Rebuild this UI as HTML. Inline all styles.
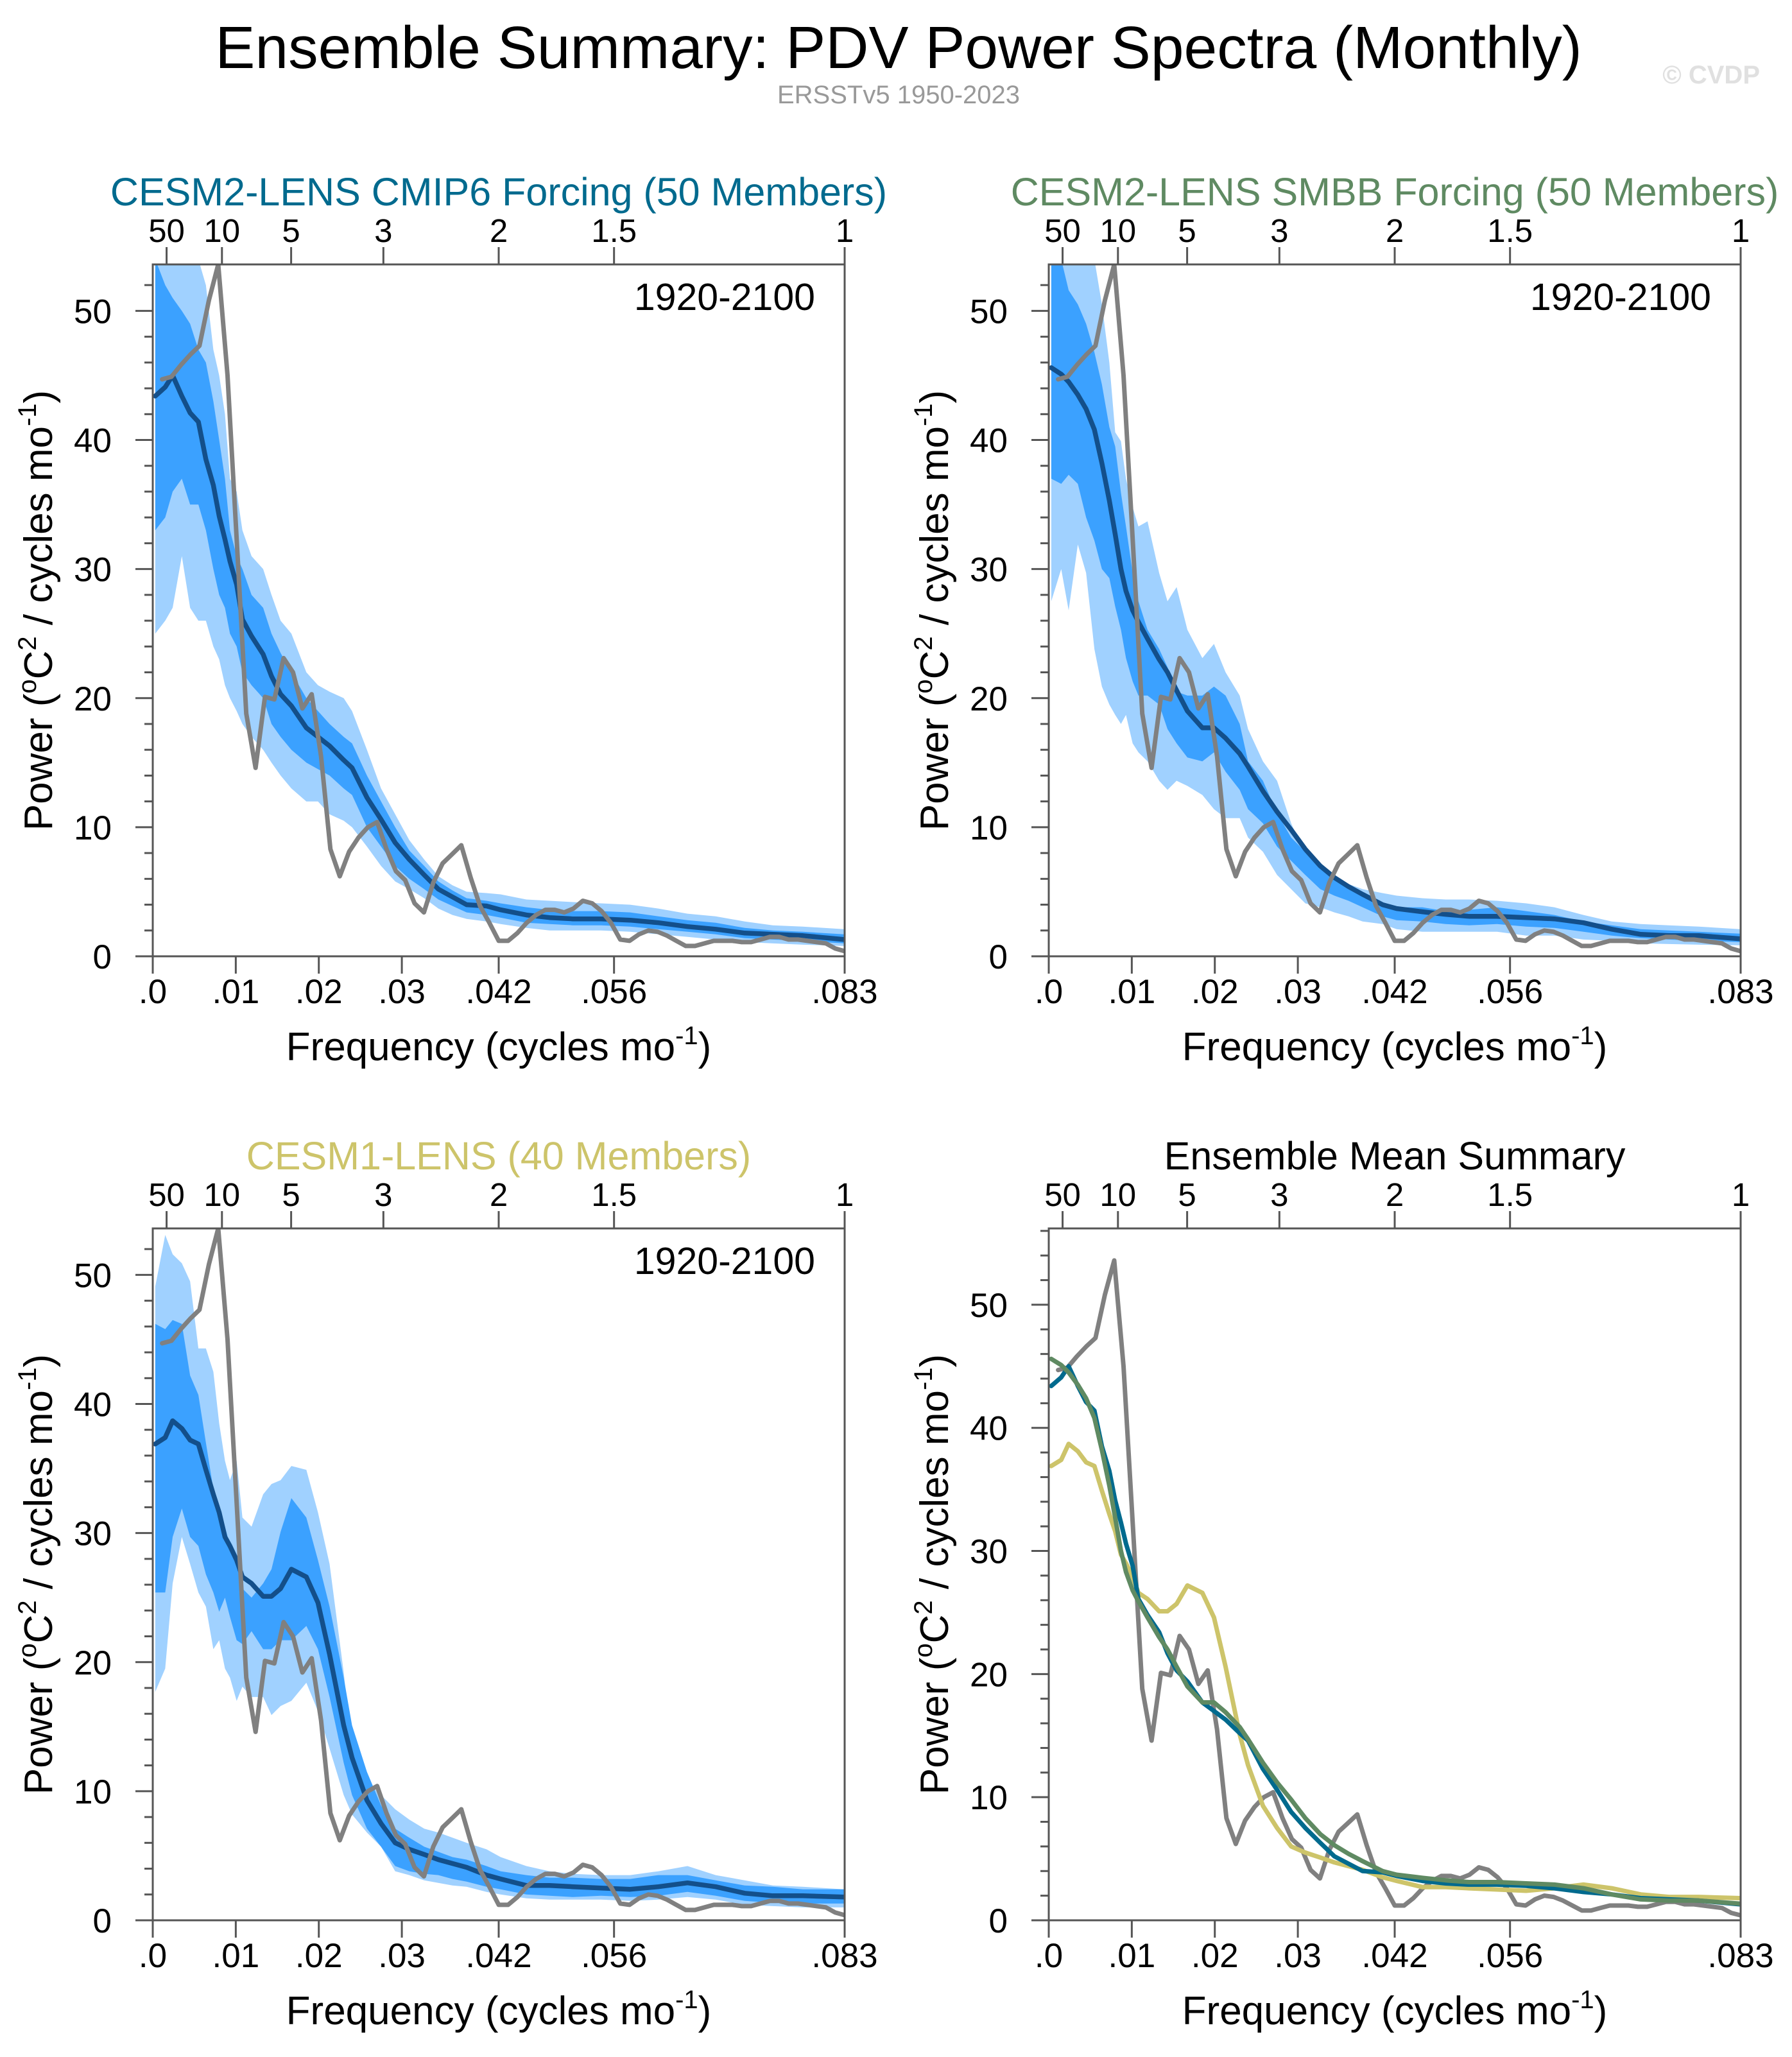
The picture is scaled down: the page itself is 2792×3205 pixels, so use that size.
<!DOCTYPE html>
<html><head><meta charset="utf-8">
<style>
html,body{margin:0;padding:0;background:#fff;}
svg text{font-family:"Liberation Sans",Arial,sans-serif;}
</style></head>
<body>
<svg id="chart" width="2792" height="3200" viewBox="0 0 2792 3200" xmlns="http://www.w3.org/2000/svg">
<rect width="2792" height="3200" fill="#fff"/>
<text x="1400" y="106" font-size="93" text-anchor="middle" fill="#000">Ensemble Summary: PDV Power Spectra (Monthly)</text>
<text x="1400" y="161" font-size="40" text-anchor="middle" fill="#999">ERSSTv5 1950-2023</text>
<text x="2742" y="130" font-size="40" font-weight="bold" text-anchor="end" fill="#e0e0e0">© CVDP</text>
</svg>
<script>
// ---- data ----
const freqGrid = [0.0003,0.0015,0.0024,0.0035,0.0045,0.0055,0.0064,0.0073,0.008,0.0087,0.0093,0.0101,0.0108,0.0119,0.0133,0.0143,0.0154,0.0167,0.0185,0.0199,0.0213,0.0230,0.0240,0.0258,0.0275,0.0292,0.0309,0.0327,0.0344,0.0361,0.0378,0.0402,0.0419,0.0450,0.0478,0.0506,0.0540,0.0575,0.0609,0.0644,0.0678,0.0713,0.0747,0.0783,0.0833];
const obsPower = [44.7,44.9,45.8,46.6,47.3,50.8,53.6,45.0,32.0,18.8,14.6,20.1,19.9,23.1,22.0,19.2,20.3,15.5,8.3,6.2,8.1,9.2,10.0,10.4,8.3,6.6,5.9,4.1,3.4,5.7,7.2,7.9,8.6,6.1,3.9,2.6,1.2,1.2,1.8,2.6,3.2,3.6,3.6,3.4,3.7,4.3,4.1,3.5,2.6,1.3,1.2,1.7,2.0,1.9,1.6,1.2,0.8,0.8,1.0,1.2,1.2,1.2,1.1,1.1,1.3,1.5,1.5,1.3,1.3,1.2,1.1,1.0,0.6,0.4];
// CESM2 CMIP6
const cmip6Mean = [43.4,44.1,45.0,43.4,42.1,41.4,38.5,36.5,34.1,32.3,30.6,28.8,26.1,24.8,23.4,21.7,20.3,19.4,17.7,17.0,16.3,15.2,14.6,12.3,10.6,8.8,7.5,6.3,5.2,4.6,4.0,3.9,3.6,3.2,3.0,2.9,2.9,2.8,2.6,2.3,2.1,1.8,1.7,1.6,1.3];
const cmip6LightUp = [60,58,57,55,55,54,52,47,45,42,37,36,33,31,30,28,26,25,22,21,20.5,20,19,16,13,11,9,7.5,6.2,5.5,5,4.9,4.8,4.4,4.3,4.2,4.1,4.0,3.7,3.3,3.1,2.7,2.4,2.3,2.1];
const cmip6DarkUp = [54,52,51,50,49,47,46,43,40,37,33,31,30,28,27,25,23.5,22,20,19,18,17,16.5,14,12,10,8.2,7,5.8,5.1,4.5,4.3,4.1,3.8,3.6,3.5,3.5,3.4,3.1,2.8,2.6,2.2,2.0,1.9,1.7];
const cmip6DarkLo = [33,34,36,37,35,35,33,30,28,27,25,24,22,21,20,18,17,16,15,14.5,14,13,12.5,10,8.5,7,6,5.2,4.4,3.9,3.4,3.2,3.0,2.6,2.5,2.4,2.4,2.3,2.1,1.9,1.7,1.4,1.3,1.2,1.0];
const cmip6LightLo = [25,26,27,31,27,26,26,24,23,21,20,19,18,17,16,15,14,13,12,12,11,10.5,10,8.5,7,5.8,5.2,4.5,3.7,3.2,2.9,2.7,2.5,2.2,2.0,2.0,2.0,1.9,1.7,1.5,1.3,1.1,1.0,0.9,0.8];
// CESM2 SMBB
const smbbMean = [45.6,45.1,44.5,43.5,42.4,40.8,38.2,35.3,32.7,30.0,28.3,26.8,25.9,24.6,23.0,22.0,20.6,19.0,17.7,17.7,16.9,15.7,14.7,12.8,11.2,9.8,8.3,7.0,6.1,5.4,4.8,4.0,3.7,3.45,3.25,3.1,3.1,3.0,2.9,2.6,2.1,1.7,1.6,1.6,1.35];
const smbbLightUp = [60,60,57,56,55,54,50.5,46,40.6,39.9,37,34.8,33.3,33.7,29.7,27.5,28.6,25.3,23.1,24.2,22,20.2,17.6,15.1,13.6,10.3,7.8,6.7,6.3,5.6,5.2,4.9,4.7,4.5,4.4,4.4,4.3,4.1,3.8,3.2,2.7,2.5,2.4,2.3,2.1];
const smbbDarkUp = [56,54,51.6,50.5,49,46.8,44.3,41,39.5,35.9,33.3,29.7,27.5,25.3,23.8,22.4,20.5,20.2,20.2,20.9,20.2,18,15.1,13.6,11.1,9.2,8.1,7.0,5.9,5.4,4.9,4.1,3.8,3.8,3.5,3.6,3.8,3.5,3.2,2.7,2.4,2.1,2.0,1.9,1.75];
const smbbDarkLo = [37,36.6,37.3,36.6,34,32.2,30,29.3,27.1,25.3,23.1,21.3,20.2,20.2,19.5,17.6,16.5,15.4,15.1,15.8,14.3,12.9,11.4,10.3,8.5,7.4,6.3,5.2,4.7,4.3,3.8,3.1,2.8,2.7,2.5,2.4,2.5,2.3,2.2,1.9,1.6,1.4,1.3,1.2,1.1];
const smbbLightLo = [27.5,30,26.8,31.9,29.7,23.8,20.9,19.5,18.7,18,18.7,16.5,15.8,15.1,13.6,12.9,13.6,13.2,12.5,11.4,10.7,10.7,9.2,8.1,6.3,5.2,4.1,3.8,3.4,3.1,2.7,2.5,2.1,1.9,1.9,1.9,1.9,1.6,1.6,1.3,1.2,1.0,0.95,0.9,0.85];
// CESM1
const cesm1Mean = [36.9,37.4,38.7,38.1,37.2,36.9,34.9,33.0,31.6,29.7,29.0,27.9,26.6,26.1,25.1,25.1,25.7,27.2,26.6,24.6,20.6,15.1,12.6,9.3,7.5,6.0,5.5,5.1,4.7,4.4,4.1,3.5,3.2,2.7,2.7,2.6,2.5,2.4,2.6,2.9,2.6,2.1,1.9,1.9,1.8];
const cesm1LightUp = [49.1,53.1,51.6,50.9,49.5,44.3,44.3,42.5,38.5,35.6,34.1,35.6,31.2,30.5,33,33.8,34.1,35.2,34.9,31.6,27.6,19.2,13.3,10.8,9.7,8.6,7.8,7.1,6.8,6.4,6.0,5.5,4.9,4.2,3.8,3.6,3.5,3.5,3.8,4.2,3.5,3.1,2.7,2.6,2.4];
const cesm1DarkUp = [46.2,45.8,46.5,46.2,42.2,40.7,37,33.4,31.9,30.5,29,27.6,25.7,25,26.1,27.2,30.1,32.7,31.2,27.9,24.3,18.8,15.1,11.5,8.9,7.1,6.4,5.7,5.3,4.9,4.7,4.2,3.8,3.5,3.3,3.3,3.2,3.2,3.5,3.5,3.1,2.7,2.6,2.4,2.4];
const cesm1DarkLo = [25.4,25.4,29.7,31.9,29.7,29,26.8,25.4,23.9,25,23.5,21.7,21.4,22.4,21,21,21.7,21.7,22.8,21,17.3,12.2,9.7,7.1,5.7,4.2,3.8,3.6,3.5,3.2,3.0,2.6,2.4,2.0,1.9,1.8,1.9,1.8,1.9,2.2,1.9,1.5,1.35,1.3,1.3];
const cesm1LightLo = [17.7,19.5,26.1,29.7,27.6,25.4,24.3,21,21.7,19.5,18.8,17,18.1,17.3,17.3,15.9,16.6,17,18.4,16.2,13.3,9.7,8.2,6.8,5.7,3.8,3.5,3.1,2.9,2.7,2.6,2.2,2.0,1.7,1.6,1.6,1.6,1.5,1.6,1.8,1.6,1.2,1.1,1.0,1.0];
const xTickVals = [0,0.01,0.02,0.03,1/24,1/18,1/12];
const xTickLabels = ['.0','.01','.02','.03','.042','.056','.083'];
const periodVals = [50,10,5,3,2,1.5,1];
const periodLabels = ['50','10','5','3','2','1.5','1'];
const yTickVals = [0,10,20,30,40,50];

const NS='http://www.w3.org/2000/svg';
const svg=document.getElementById('chart');
function mk(tag,attrs,parent){const e=document.createElementNS(NS,tag);for(const k in attrs)e.setAttribute(k,attrs[k]);(parent||svg).appendChild(e);return e;}
const obsFreq = obsPower.map((v,i)=>(i+1)/888);
const AX='#555';

function panel(id,x0,y0,ymax,title,titleColor,showYears,layers){
  const W=1078,H=1078,fmax=1/12;
  const g=mk('g',{});
  
  
  const X=f=>x0+f/fmax*W;
  const Y=v=>y0+H-v/ymax*H;
  const cp=mk('clipPath',{id:id+'-clip'},g);
  mk('rect',{x:x0,y:y0,width:W,height:H},cp);
  const plot=mk('g',{'clip-path':'url(#'+id+'-clip)'},g);
  function band(up,lo,fill,name){
    let d='M'+freqGrid.map((f,i)=>X(f).toFixed(1)+','+Y(up[i]).toFixed(1)).join('L');
    for(let i=freqGrid.length-1;i>=0;i--)d+='L'+X(freqGrid[i]).toFixed(1)+','+Y(lo[i]).toFixed(1);
    const p=mk('path',{d:d+'Z',fill:fill},plot);
    
    
  }
  function line(fs,vs,col,name,w){
    const p=mk('path',{d:'M'+fs.map((f,i)=>X(f).toFixed(1)+','+Y(vs[i]).toFixed(1)).join('L'),fill:'none',stroke:col,'stroke-width':w||7,'stroke-linejoin':'round','stroke-linecap':'round'},plot);
    
    
  }
  layers(band,line);
  mk('rect',{x:x0,y:y0,width:W,height:H,fill:'none',stroke:AX,'stroke-width':3},g);
  for(let v=0;v<=ymax;v+=2){
    const maj=v%10===0;
    mk('line',{x1:x0-(maj?27:13),x2:x0,y1:Y(v),y2:Y(v),stroke:AX,'stroke-width':3},g);
  }
  yTickVals.forEach(v=>{
    const t=mk('text',{x:x0-64,y:Y(v)+19,'font-size':53,'text-anchor':'end',fill:'#000'},g);
    
    
    t.textContent=String(v);
  });
  xTickVals.forEach((f,i)=>{
    mk('line',{x1:X(f),x2:X(f),y1:y0+H,y2:y0+H+27,stroke:AX,'stroke-width':3},g);
    const t=mk('text',{x:X(f),y:y0+H+73,'font-size':53,'text-anchor':'middle',fill:'#000'},g);
    
    
    t.textContent=xTickLabels[i];
  });
  periodVals.forEach((p,i)=>{
    const f=1/(12*p);
    mk('line',{x1:X(f),x2:X(f),y1:y0,y2:y0-27,stroke:AX,'stroke-width':3},g);
    const t=mk('text',{x:X(f),y:y0-35,'font-size':51,'text-anchor':'middle',fill:'#000'},g);
    
    
    t.textContent=periodLabels[i];
  });
  const tt=mk('text',{x:x0+W/2,y:y0-92,'font-size':61,'text-anchor':'middle',fill:titleColor},g);
  
  
  tt.textContent=title;
  if(showYears){
    const yt=mk('text',{x:x0+W-46,y:y0+71,'font-size':59,'text-anchor':'end',fill:'#000'},g);
    
    
    yt.textContent='1920-2100';
  }
  const xt=mk('text',{x:x0+W/2,y:y0+H+162,'font-size':62,'text-anchor':'middle',fill:'#000'},g);
  
  
  xt.innerHTML='Frequency (cycles mo<tspan dy="-25" font-size="40">-1</tspan><tspan dy="25">)</tspan>';
  const cy=y0+H/2, cx=x0-157;
  const yt2=mk('text',{x:cx,y:cy,'font-size':62,'text-anchor':'middle',fill:'#000',transform:'rotate(-90 '+cx+' '+cy+')'},g);
  
  
  yt2.innerHTML='Power (<tspan dy="-25" font-size="40">o</tspan><tspan dy="25">C</tspan><tspan dy="-25" font-size="40">2</tspan><tspan dy="25"> / cycles mo</tspan><tspan dy="-25" font-size="40">-1</tspan><tspan dy="25">)</tspan>';
}
const LIGHT='#a0d1ff', DARK='#3ba1ff', MEAN='#134f8a', OBS='#808080';
function ens(up1,up2,lo2,lo1,mean){
  return (band,line)=>{
    band(up1,lo1,LIGHT,'band-outer');
    band(up2,lo2,DARK,'band-inner');
    line(freqGrid,mean,MEAN,'ensemble-mean-line',7.5);
    line(obsFreq,obsPower,OBS,'ersst-line',7);
  };
}
panel('panel-cmip6',238,412,53.6,'CESM2-LENS CMIP6 Forcing (50 Members)','#006a8e',true,ens(cmip6LightUp,cmip6DarkUp,cmip6DarkLo,cmip6LightLo,cmip6Mean));
panel('panel-smbb',1634,412,53.6,'CESM2-LENS SMBB Forcing (50 Members)','#5f8a62',true,ens(smbbLightUp,smbbDarkUp,smbbDarkLo,smbbLightLo,smbbMean));
panel('panel-cesm1',238,1914,53.6,'CESM1-LENS (40 Members)','#cdc46a',true,ens(cesm1LightUp,cesm1DarkUp,cesm1DarkLo,cesm1LightLo,cesm1Mean));
panel('panel-summary',1634,1914,56.2,'Ensemble Mean Summary','#000',false,(band,line)=>{
  line(obsFreq,obsPower,OBS,'ersst-line',7);
  line(freqGrid,cesm1Mean,'#cdc46a','cesm1-mean-line',7);
  line(freqGrid,cmip6Mean,'#006a8e','cmip6-mean-line',7);
  line(freqGrid,smbbMean,'#5f8a62','smbb-mean-line',7);
});
</script>
</body></html>
